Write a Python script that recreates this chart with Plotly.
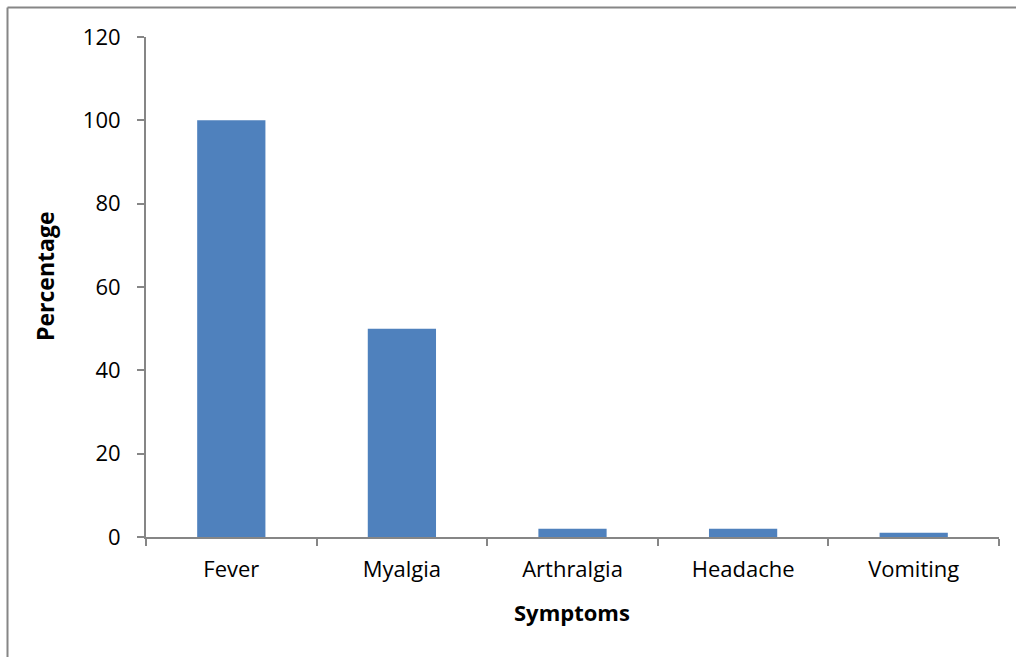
import plotly.graph_objects as go

categories = ["Fever", "Myalgia", "Arthralgia", "Headache", "Vomiting"]
values = [100, 50, 2, 2, 1]
y_ticks = [0, 20, 40, 60, 80, 100, 120]

W, H = 1016, 657
ml, mr, mt, mb = 146, 17, 37, 120

fig = go.Figure(go.Bar(
    x=categories, y=values, width=0.4,
    marker=dict(color="#4F81BD", line=dict(width=0)),
))

axis_color = "#868686"
font_family = "'Open Sans', sans-serif"

pw = W - ml - mr
ph = H - mt - mb


def px_x(p):
    return (p - ml) / pw


def px_y(p):
    return 1 - (p - mt) / ph


fig.update_layout(
    width=W, height=H,
    margin=dict(l=ml, r=mr, t=mt, b=mb),
    plot_bgcolor="white", paper_bgcolor="white",
    font=dict(family=font_family, size=22, color="#000000"),
    showlegend=False,
    xaxis=dict(
        type="category", tickson="boundaries",
        showline=True, linecolor=axis_color, linewidth=2,
        ticks="outside", ticklen=7, tickcolor=axis_color, tickwidth=2,
        showgrid=False, zeroline=False,
        tickfont=dict(size=22),
        ticklabelstandoff=12,
    ),
    yaxis=dict(
        range=[0, 120], tickvals=y_ticks,
        showline=True, linecolor=axis_color, linewidth=2,
        ticks="outside", ticklen=7, tickcolor=axis_color, tickwidth=2,
        showgrid=False, zeroline=False,
        tickfont=dict(size=22),
        ticklabelstandoff=12,
    ),
    annotations=[
        dict(text="<b>Symptoms</b>", xref="paper", yref="paper",
             x=px_x(572), y=px_y(612), showarrow=False,
             xanchor="center", yanchor="middle", font=dict(size=22)),
        dict(text="<b>Percentage</b>", xref="paper", yref="paper",
             x=px_x(45), y=px_y(277), showarrow=False, textangle=-90,
             xanchor="center", yanchor="middle", font=dict(size=23)),
    ],
)

bx = px_x(7.5)
by = px_y(7.5)
fig.add_shape(type="line", xref="paper", yref="paper",
              x0=bx, x1=px_x(W + 20), y0=by, y1=by,
              line=dict(color=axis_color, width=2), layer="below")
fig.add_shape(type="line", xref="paper", yref="paper",
              x0=bx, x1=bx, y0=by, y1=px_y(H + 20),
              line=dict(color=axis_color, width=2), layer="below")

fig.write_html(
    "out.html", config={"displayModeBar": False},
    post_script=(
        "document.documentElement.style.margin='0';"
        "document.documentElement.style.overflow='hidden';"
        "document.body.style.margin='0';document.body.style.overflow='hidden';"
    ),
)
